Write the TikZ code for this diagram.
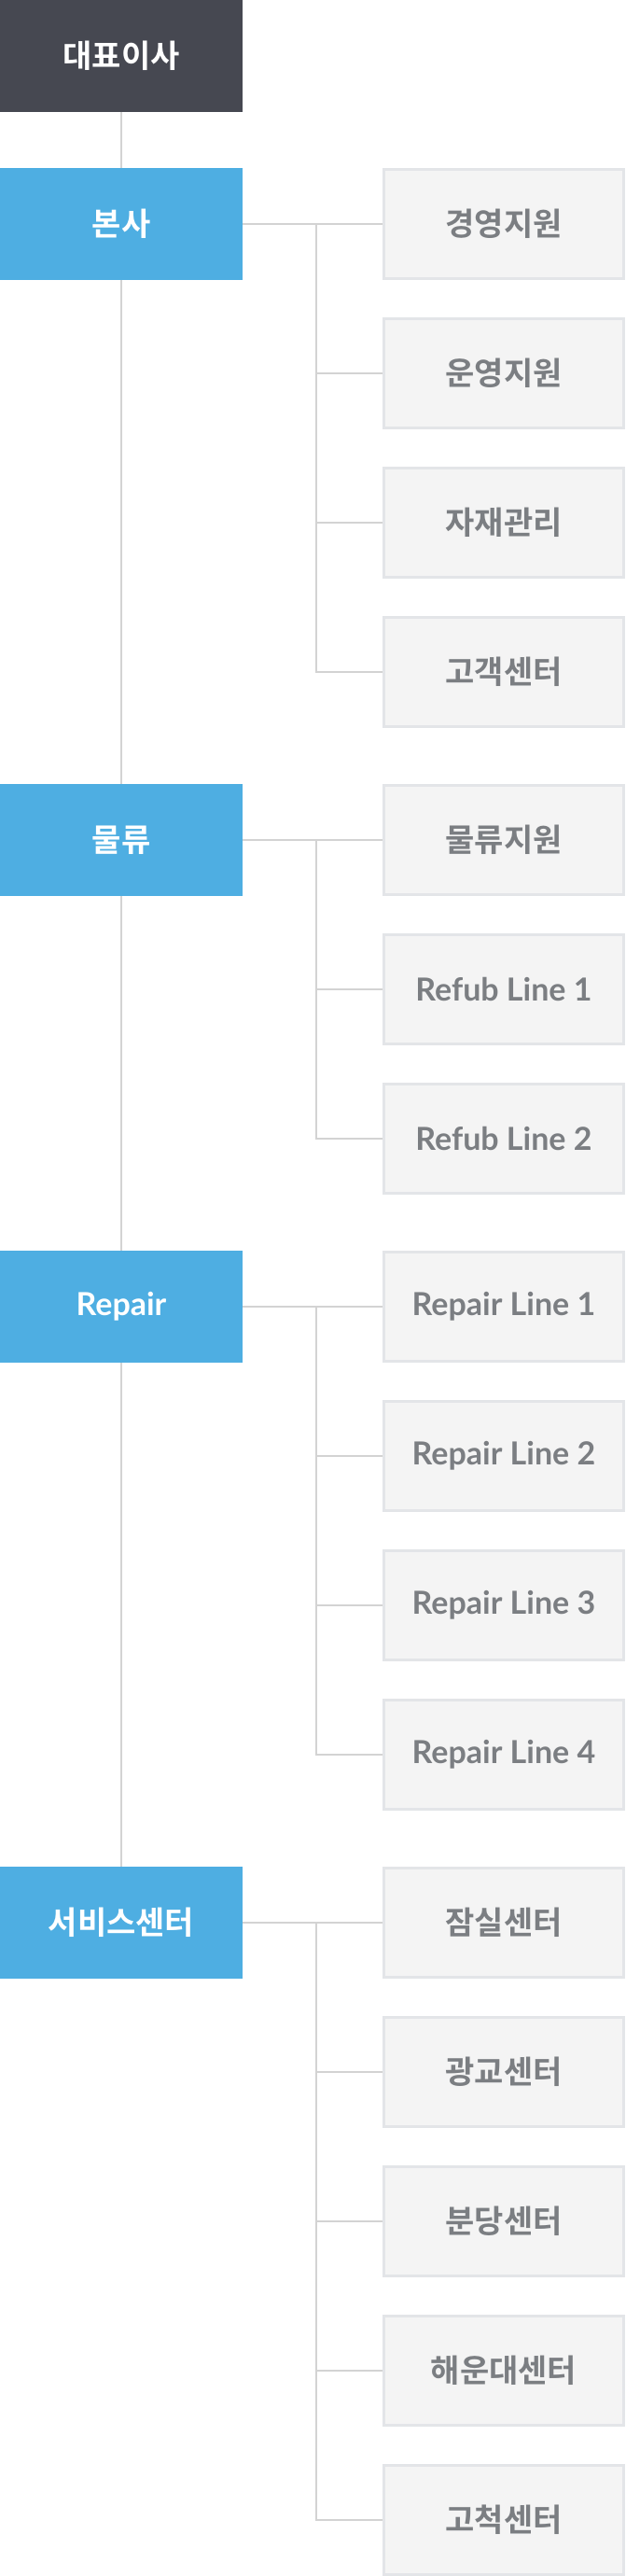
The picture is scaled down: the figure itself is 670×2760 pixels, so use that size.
\documentclass[tikz,border=0pt]{standalone}
\usepackage{fontspec}
\setmainfont{Lato}
\newfontfamily\krfont{Noto Sans CJK KR}[BoldFont={Noto Sans CJK KR Bold}]
\usepackage{tikz}
\usetikzlibrary{positioning}
\definecolor{ceocol}{HTML}{464851}
\definecolor{deptcol}{HTML}{4EAEE2}
\definecolor{unitfill}{HTML}{F4F4F4}
\definecolor{unitline}{HTML}{E3E5E8}
\definecolor{unittext}{HTML}{7B7E82}
\definecolor{linkcol}{HTML}{D3D3D3}

\begin{document}
\begin{tikzpicture}[x=1pt, y=1pt, node distance=40pt,
  box/.style={minimum width=260pt, minimum height=120pt, inner sep=0pt, outer sep=0pt,
    font=\fontsize{34}{40}\selectfont\bfseries},
  ceo/.style={box, fill=ceocol, text=white},
  dept/.style={box, fill=deptcol, text=white},
  unit/.style={box, draw=unitline, line width=3pt, fill=unitfill, text=unittext,
    minimum width=257pt, minimum height=117pt, outer sep=1.5pt},
  kr/.style={font=\fontsize{34}{40}\selectfont\krfont\bfseries},
  link/.style={draw=linkcol, line width=2pt}
]
\useasboundingbox (0,0) rectangle (670,-2760);

\node (ceo) [ceo, kr] at (130,-60) {대표이사};
\node (hq) [dept, kr] at (130,-240) {본사};
\node (logi) [dept, kr] at (130,-900) {물류};
\node (repair) [dept] at (130,-1400) {Repair};
\node (svc) [dept, kr] at (130,-2060) {서비스센터};

\node (hq1) [unit, kr, right=150pt of hq] {경영지원};
\node (hq2) [unit, kr, below=of hq1] {운영지원};
\node (hq3) [unit, kr, below=of hq2] {자재관리};
\node (hq4) [unit, kr, below=of hq3] {고객센터};

\node (logi1) [unit, kr, right=150pt of logi] {물류지원};
\node (logi2) [unit, below=of logi1] {Refub Line 1};
\node (logi3) [unit, below=of logi2] {Refub Line 2};

\node (rep1) [unit, right=150pt of repair] {Repair Line 1};
\node (rep2) [unit, below=of rep1] {Repair Line 2};
\node (rep3) [unit, below=of rep2] {Repair Line 3};
\node (rep4) [unit, below=of rep3] {Repair Line 4};

\node (svc1) [unit, kr, right=150pt of svc] {잠실센터};
\node (svc2) [unit, kr, below=of svc1] {광교센터};
\node (svc3) [unit, kr, below=of svc2] {분당센터};
\node (svc4) [unit, kr, below=of svc3] {해운대센터};
\node (svc5) [unit, kr, below=of svc4] {고척센터};

\coordinate (hqb) at (339,-240);
\coordinate (logib) at (339,-900);
\coordinate (repb) at (339,-1400);
\coordinate (svcb) at (339,-2060);

\draw[link] (ceo) -- (hq);
\draw[link] (hq) -- (logi);
\draw[link] (logi) -- (repair);
\draw[link] (repair) -- (svc);

\draw[link] (hq) -- (hq1);
\draw[link] (hqb) |- (hq2.west);
\draw[link] (hqb) |- (hq3.west);
\draw[link] (hqb) |- (hq4.west);

\draw[link] (logi) -- (logi1);
\draw[link] (logib) |- (logi2.west);
\draw[link] (logib) |- (logi3.west);

\draw[link] (repair) -- (rep1);
\draw[link] (repb) |- (rep2.west);
\draw[link] (repb) |- (rep3.west);
\draw[link] (repb) |- (rep4.west);

\draw[link] (svc) -- (svc1);
\draw[link] (svcb) |- (svc2.west);
\draw[link] (svcb) |- (svc3.west);
\draw[link] (svcb) |- (svc4.west);
\draw[link] (svcb) |- (svc5.west);
\end{tikzpicture}
\end{document}
